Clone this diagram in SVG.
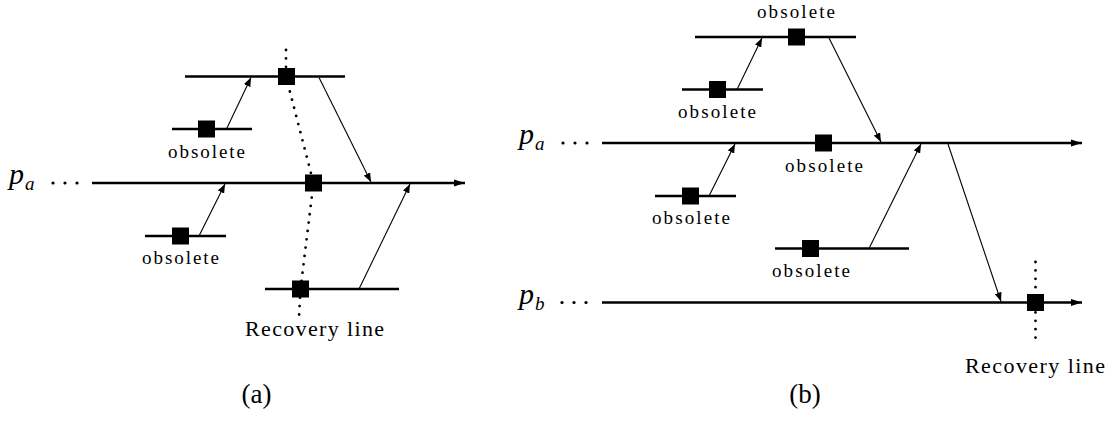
<svg xmlns="http://www.w3.org/2000/svg" width="1114" height="421" viewBox="0 0 1114 421">
<style>
.proc{stroke:#000;stroke-width:2.6;fill:none}
.msg{stroke:#000;stroke-width:1.1;fill:none;marker-end:url(#ah)}
.ck{fill:#000}
.rec{stroke:#000;stroke-width:2.8;fill:none;stroke-linecap:round;stroke-dasharray:0 8.4}
text{font-family:"Liberation Serif","DejaVu Serif",serif;fill:#000}
.lbl{font-size:19px}
.rl{font-size:22px}
.cap{font-size:27px}
.pn{font-style:italic;font-size:30px}
.sub{font-style:italic;font-size:19px}
</style>
<defs>
<marker id="ah" markerUnits="userSpaceOnUse" markerWidth="10" markerHeight="7" refX="9" refY="3.5" orient="auto">
<path d="M0,0 L9,3.5 L0,7 z" fill="#000"/>
</marker>
<marker id="ahp" markerUnits="userSpaceOnUse" markerWidth="12" markerHeight="8" refX="11" refY="4" orient="auto">
<path d="M0,0.5 L11,4 L0,7.5 z" fill="#000"/>
</marker>
</defs>

<!-- Panel (a) -->
<g id="a-pa">
<text class="pn" x="9" y="184" font-family="Liberation Serif, serif">p</text><text class="sub" x="25" y="190" font-family="Liberation Serif, serif">a</text>
<circle cx="53" cy="183" r="1.6"/><circle cx="65" cy="183" r="1.6"/><circle cx="77" cy="183" r="1.6"/>
<line class="proc" x1="92" y1="183" x2="465" y2="183" marker-end="url(#ahp)"/>
<rect class="ck" x="305" y="174.5" width="17" height="17"/>
</g>
<g id="a-top">
<line class="proc" x1="185" y1="76.5" x2="345" y2="76.5"/>
<rect class="ck" x="278" y="68" width="17" height="17"/>
</g>
<g id="a-obs1">
<line class="proc" x1="172" y1="129" x2="252" y2="129"/>
<rect class="ck" x="198" y="120.5" width="17" height="17"/>
<text class="lbl" x="168" y="158" textLength="77" lengthAdjust="spacing" font-family="Liberation Serif, serif">obsolete</text>
</g>
<g id="a-obs2">
<line class="proc" x1="145" y1="236" x2="226" y2="236"/>
<rect class="ck" x="172" y="227.5" width="17" height="17"/>
<text class="lbl" x="142" y="264" textLength="77" lengthAdjust="spacing" font-family="Liberation Serif, serif">obsolete</text>
</g>
<g id="a-bot">
<line class="proc" x1="265" y1="289" x2="399" y2="289"/>
<rect class="ck" x="292" y="280.5" width="17" height="17"/>
</g>
<g id="a-recovery">
<polyline class="rec" points="286,50 286,76.5 313.5,183 300.5,289 299,317"/>
<text class="rl" x="245" y="336" textLength="139" lengthAdjust="spacing" font-family="Liberation Serif, serif">Recovery line</text>
</g>
<g id="a-caption"><text class="cap" x="256.5" y="403" text-anchor="middle" font-family="Liberation Serif, serif">(a)</text></g>

<!-- Panel (b) -->
<g id="b-pa">
<text class="pn" x="519" y="144" font-family="Liberation Serif, serif">p</text><text class="sub" x="535" y="150" font-family="Liberation Serif, serif">a</text>
<circle cx="563" cy="143" r="1.6"/><circle cx="575" cy="143" r="1.6"/><circle cx="587" cy="143" r="1.6"/>
<line class="proc" x1="602" y1="143" x2="1082" y2="143" marker-end="url(#ahp)"/>
<rect class="ck" x="815" y="134.5" width="17" height="17"/>
<text class="lbl" x="785" y="172" textLength="78" lengthAdjust="spacing" font-family="Liberation Serif, serif">obsolete</text>
</g>
<g id="b-pb">
<text class="pn" x="519" y="304" font-family="Liberation Serif, serif">p</text><text class="sub" x="535" y="310" font-family="Liberation Serif, serif">b</text>
<circle cx="562" cy="302.5" r="1.6"/><circle cx="574" cy="302.5" r="1.6"/><circle cx="586" cy="302.5" r="1.6"/>
<line class="proc" x1="602" y1="302.5" x2="1082" y2="302.5" marker-end="url(#ahp)"/>
<rect class="ck" x="1027" y="294" width="17" height="17"/>
</g>
<g id="b-top">
<line class="proc" x1="695" y1="37" x2="856" y2="37"/>
<rect class="ck" x="788" y="28.5" width="17" height="17"/>
<text class="lbl" x="757" y="18" textLength="78" lengthAdjust="spacing" font-family="Liberation Serif, serif">obsolete</text>
</g>
<g id="b-obs1">
<line class="proc" x1="682" y1="89.5" x2="763" y2="89.5"/>
<rect class="ck" x="709" y="81" width="17" height="17"/>
<text class="lbl" x="678" y="118" textLength="78" lengthAdjust="spacing" font-family="Liberation Serif, serif">obsolete</text>
</g>
<g id="b-obs2">
<line class="proc" x1="655" y1="196" x2="736" y2="196"/>
<rect class="ck" x="682" y="187.5" width="17" height="17"/>
<text class="lbl" x="652" y="224" textLength="78" lengthAdjust="spacing" font-family="Liberation Serif, serif">obsolete</text>
</g>
<g id="b-obs3">
<line class="proc" x1="775" y1="248.5" x2="909" y2="248.5"/>
<rect class="ck" x="802" y="240" width="17" height="17"/>
<text class="lbl" x="772" y="277" textLength="78" lengthAdjust="spacing" font-family="Liberation Serif, serif">obsolete</text>
</g>
<g id="b-recovery">
<line class="rec" x1="1035.5" y1="262" x2="1035.5" y2="344"/>
<text class="rl" x="965" y="373" textLength="140" lengthAdjust="spacing" font-family="Liberation Serif, serif">Recovery line</text>
</g>
<g id="b-caption"><text class="cap" x="805" y="403" text-anchor="middle" font-family="Liberation Serif, serif">(b)</text></g>

<g id="connectors">
<line class="msg" x1="226.5" y1="129" x2="251" y2="77.5"/>
<line class="msg" x1="319" y1="77.5" x2="371" y2="182"/>
<line class="msg" x1="199" y1="236" x2="225" y2="184"/>
<line class="msg" x1="359" y1="289" x2="410" y2="184"/>
<line class="msg" x1="737" y1="89.5" x2="762" y2="38"/>
<line class="msg" x1="829" y1="38" x2="881" y2="142"/>
<line class="msg" x1="709" y1="196" x2="735" y2="144"/>
<line class="msg" x1="869" y1="248.5" x2="921" y2="144"/>
<line class="msg" x1="948" y1="144" x2="1001" y2="301.5"/>
</g>
</svg>
